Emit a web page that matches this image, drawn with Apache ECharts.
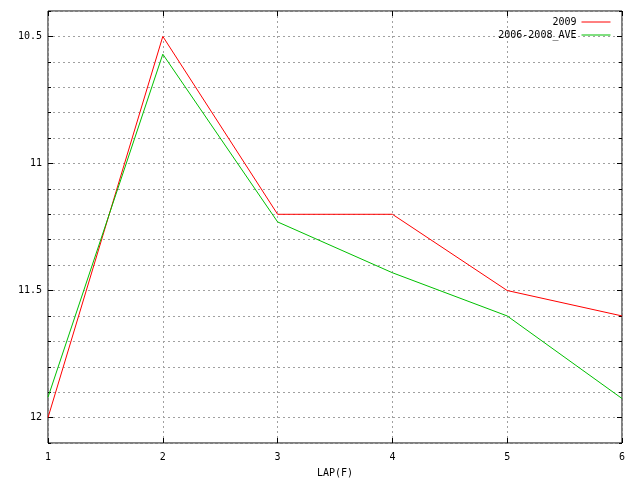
<!DOCTYPE html>
<html>
<head>
<meta charset="utf-8">
<script src="https://cdn.jsdelivr.net/npm/echarts@6/dist/echarts.min.js"></script>
<style>html,body{margin:0;padding:0;background:#fff}#c{width:640px;height:480px}</style>
</head>
<body>
<div id="c"></div>
<script>
var laps = [1, 2, 3, 4, 5, 6];
var s2009 = [12.0, 10.5, 11.2, 11.2, 11.5, 11.6];
var sAve = [11.92, 10.57, 11.23, 11.43, 11.6, 11.925];
var yMajor = [10.5, 11, 11.5, 12];
var seriesNames = ['2009', '2006-2008_AVE'];

var font = 'DejaVu Sans Mono';
var grid = {left: 48, right: 18, top: 11, bottom: 37, show: true, borderColor: '#000', borderWidth: 1,
  backgroundColor: 'transparent', containLabel: false, outerBoundsMode: 'none'};
var dashed = {show: true, lineStyle: {color: '#a0a0a0', type: [2, 3], width: 1}};

function pairs(ys) { return laps.map(function (x, i) { return [x, ys[i]]; }); }

var legendCommon = {orient: 'vertical', right: 29, padding: 0, align: 'right', itemWidth: 29, itemHeight: 10, itemTextGap: 6,
  itemStyle: {opacity: 0}, lineStyle: {width: 1},
  textStyle: {fontFamily: font, fontSize: 10, color: '#000'}};

var chart = echarts.init(document.getElementById('c'), null, {renderer: 'canvas'});
chart.setOption({
  animation: false,
  backgroundColor: '#fff',
  grid: grid,
  legend: [
    Object.assign({data: [seriesNames[0]], top: 17}, legendCommon),
    Object.assign({data: [seriesNames[1]], top: 30}, legendCommon)
  ],
  xAxis: [
    {type: 'value', position: 'bottom', min: 1, max: 6, interval: 1,
     axisLine: {show: false}, axisTick: {show: true, inside: true, length: 5, lineStyle: {color: '#000'}},
     axisLabel: {fontFamily: font, fontSize: 10, color: '#000', margin: 9},
     splitLine: dashed,
     name: 'LAP(F)', nameLocation: 'middle', nameGap: 25, nameTextStyle: {fontFamily: font, fontSize: 10, color: '#000'}},
    {type: 'value', position: 'top', min: 1, max: 6, interval: 1,
     axisLine: {show: false}, axisTick: {show: true, inside: true, length: 5, lineStyle: {color: '#000'}},
     axisLabel: {show: false}, splitLine: {show: false}}
  ],
  yAxis: [
    {type: 'value', position: 'left', inverse: true, min: 10.4, max: 12.1, interval: 0.1,
     axisLine: {show: false}, axisTick: {show: true, inside: true, length: 3, lineStyle: {color: '#000'}},
     axisLabel: {fontFamily: font, fontSize: 10, color: '#000', margin: 6,
       formatter: function (v) { var k = Math.round(v * 10); return (k % 5 === 0) ? String(k / 10) : ''; }},
     splitLine: dashed},
    {type: 'value', position: 'right', inverse: true, min: 10.4, max: 12.1, interval: 0.1,
     axisLine: {show: false}, axisTick: {show: true, inside: true, length: 3, lineStyle: {color: '#000'}},
     axisLabel: {show: false}, splitLine: {show: false}},
    {type: 'value', position: 'left', inverse: true, min: 10.4, max: 12.1, interval: 0.1,
     axisLine: {show: false}, axisTick: {show: true, inside: true, length: 5, customValues: yMajor, lineStyle: {color: '#000'}},
     axisLabel: {show: false}, splitLine: {show: false}},
    {type: 'value', position: 'right', inverse: true, min: 10.4, max: 12.1, interval: 0.1,
     axisLine: {show: false}, axisTick: {show: true, inside: true, length: 5, customValues: yMajor, lineStyle: {color: '#000'}},
     axisLabel: {show: false}, splitLine: {show: false}}
  ],
  series: [
    {name: seriesNames[0], type: 'line', data: pairs(s2009), symbol: 'none', color: '#ff0000', lineStyle: {width: 1, color: '#ff0000'}},
    {name: seriesNames[1], type: 'line', data: pairs(sAve), symbol: 'none', color: '#00c000', lineStyle: {width: 1, color: '#00c000'}}
  ]
});
</script>
</body>
</html>
